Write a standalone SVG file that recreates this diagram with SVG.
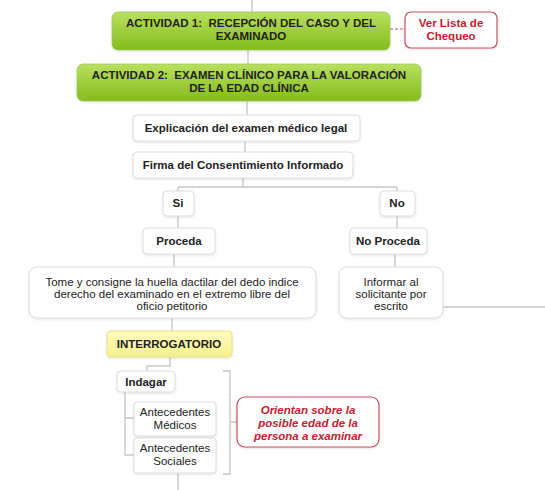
<svg xmlns="http://www.w3.org/2000/svg" width="545" height="490" viewBox="0 0 545 490">
<defs>
<linearGradient id="green" x1="0" y1="0" x2="0" y2="1">
<stop offset="0" stop-color="#b8e060"/>
<stop offset="1" stop-color="#84bc1c"/>
</linearGradient>
<linearGradient id="yellow" x1="0" y1="0" x2="0" y2="1">
<stop offset="0" stop-color="#fffcc0"/>
<stop offset="1" stop-color="#f6ef8a"/>
</linearGradient>
<filter id="sh" x="-10%" y="-10%" width="120%" height="130%">
<feDropShadow dx="0" dy="1" stdDeviation="1" flood-color="#000" flood-opacity="0.12"/>
</filter>
</defs>
<style>
text{font-family:"Liberation Sans",Arial,sans-serif;font-size:11.5px;fill:#222;text-anchor:middle;white-space:pre}
.b{font-weight:bold}
.r{fill:#c3202f;font-weight:bold}
.ri{fill:#c3202f;font-weight:bold;font-style:italic}
.g{fill:url(#green);stroke:#9cc95a;stroke-width:0.8}
.w{fill:#fff;stroke:#dcdcdc;stroke-width:1}
.y{fill:url(#yellow);stroke:#e6df8c;stroke-width:1}
.rb{fill:#fff;stroke:#c8505c;stroke-width:1.2}
.c{fill:none;stroke:#c8c8c8;stroke-width:1.4}
</style>
<rect width="545" height="490" fill="#fff"/>
<g id="connectors">
<path class="c" d="M252 0V12"/>
<path d="M390 29H405" fill="none" stroke="#c8505c" stroke-width="1.2" stroke-dasharray="3,2"/>
<path class="c" d="M248 50V64"/>
<path class="c" d="M247 101V115"/>
<path class="c" d="M245 141V152"/>
<path class="c" d="M243 178V187M178 187H397M178 187V191M397 187V191"/>
<path class="c" d="M178 216V228M397 216V228"/>
<path class="c" d="M174 254V267M395 254V267"/>
<path class="c" d="M443 307H545"/>
<path class="c" d="M172 318V331"/>
<path class="c" d="M170 357V366H147V371"/>
<path class="c" d="M125 392V455H134M125 418H134"/>
<path class="c" d="M178 473V490"/>
<path class="c" d="M223 371H230V474H223M230 422H237"/>
</g>
<g id="act1">
<rect class="g" x="112" y="12" width="278" height="38" rx="6" filter="url(#sh)"/>
<text class="b" x="251" y="27" xml:space="preserve">ACTIVIDAD 1:  RECEPCIÓN DEL CASO Y DEL</text>
<text class="b" x="251" y="40">EXAMINADO</text>
</g>
<g id="verlista">
<rect class="rb" x="405" y="12" width="92" height="36" rx="6" filter="url(#sh)"/>
<text class="r" x="451" y="27">Ver Lista de</text>
<text class="r" x="451" y="40">Chequeo</text>
</g>
<g id="act2">
<rect class="g" x="77" y="64" width="344" height="37" rx="6" filter="url(#sh)"/>
<text class="b" x="249" y="79" xml:space="preserve">ACTIVIDAD 2:  EXAMEN CLÍNICO PARA LA VALORACIÓN</text>
<text class="b" x="249" y="92">DE LA EDAD CLÍNICA</text>
</g>
<g id="explicacion">
<rect class="w" x="133" y="115" width="227" height="26" rx="4" filter="url(#sh)"/>
<text class="b" x="246" y="132">Explicación del examen médico legal</text>
</g>
<g id="firma">
<rect class="w" x="133" y="152" width="220" height="26" rx="4" filter="url(#sh)"/>
<text class="b" x="243" y="169">Firma del Consentimiento Informado</text>
</g>
<g id="si">
<rect class="w" x="163" y="191" width="31" height="25" rx="4" filter="url(#sh)"/>
<text class="b" x="178" y="207">Si</text>
</g>
<g id="no">
<rect class="w" x="380" y="191" width="35" height="25" rx="4" filter="url(#sh)"/>
<text class="b" x="397" y="207">No</text>
</g>
<g id="proceda">
<rect class="w" x="143" y="228" width="72" height="26" rx="4" filter="url(#sh)"/>
<text class="b" x="179" y="245">Proceda</text>
</g>
<g id="noproceda">
<rect class="w" x="350" y="228" width="77" height="26" rx="4" filter="url(#sh)"/>
<text class="b" x="388" y="245">No Proceda</text>
</g>
<g id="tome">
<rect class="w" x="29" y="267" width="287" height="51" rx="8" filter="url(#sh)"/>
<text x="172" y="286">Tome y consigne la huella dactilar del dedo indice</text>
<text x="172" y="298">derecho del examinado en el extremo libre del</text>
<text x="172" y="310">oficio petitorio</text>
</g>
<g id="informar">
<rect class="w" x="339" y="267" width="104" height="51" rx="8" filter="url(#sh)"/>
<text x="391" y="286">Informar al</text>
<text x="391" y="298">solicitante por</text>
<text x="391" y="310">escrito</text>
</g>
<g id="interrogatorio">
<rect class="y" x="107" y="331" width="125" height="26" rx="4" filter="url(#sh)"/>
<text class="b" x="169" y="348">INTERROGATORIO</text>
</g>
<g id="indagar">
<rect class="w" x="117" y="371" width="58" height="21" rx="4" filter="url(#sh)"/>
<text class="b" x="146" y="386">Indagar</text>
</g>
<g id="medicos">
<rect class="w" x="134" y="402" width="82" height="34" rx="3" filter="url(#sh)"/>
<text x="175" y="416">Antecedentes</text>
<text x="175" y="429">Médicos</text>
</g>
<g id="sociales">
<rect class="w" x="134" y="438" width="82" height="35" rx="3" filter="url(#sh)"/>
<text x="175" y="452">Antecedentes</text>
<text x="175" y="465">Sociales</text>
</g>
<g id="orientan">
<rect class="rb" x="237" y="397" width="142" height="50" rx="8" filter="url(#sh)"/>
<text class="ri" x="308" y="414">Orientan sobre la</text>
<text class="ri" x="308" y="427">posible edad de la</text>
<text class="ri" x="308" y="440">persona a examinar</text>
</g>
</svg>
